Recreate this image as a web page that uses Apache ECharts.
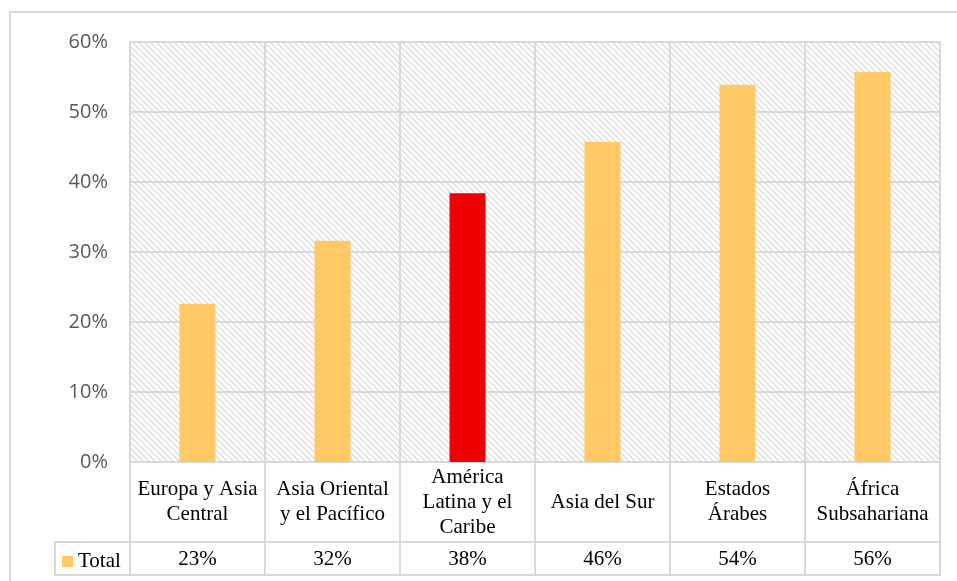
<!DOCTYPE html>
<html>
<head>
<meta charset="utf-8">
<script src="https://cdn.jsdelivr.net/npm/echarts@6/dist/echarts.min.js"></script>
<style>
  html, body { margin: 0; padding: 0; background: #fff; }
  #main { width: 957px; height: 581px; }
</style>
</head>
<body>
<div id="main"></div>
<script>
const categories = ['Europa y Asia\nCentral', 'Asia Oriental\ny el Pacífico', 'América\nLatina y el\nCaribe', 'Asia del Sur', 'Estados\nÁrabes', 'África\nSubsahariana']
const values = [22.6, 31.6, 38.4, 45.7, 53.9, 55.7]
const tableLabels = ['23%', '32%', '38%', '46%', '54%', '56%']
const highlightIndex = 2
const yTicks = { min: 0, max: 60, interval: 10 }

const gold = '#FFCA66'
const red = '#EE0000'
const lineGray = '#d9d9d9'
const serif = '"Liberation Serif", "Times New Roman", serif'

// hatched plot background
const hatch = document.createElement('canvas')
hatch.width = 6
hatch.height = 6
const ctx = hatch.getContext('2d')
ctx.fillStyle = '#fff'
ctx.fillRect(0, 0, 6, 6)
ctx.strokeStyle = '#dcdcdc'
ctx.lineWidth = 1.3
ctx.beginPath()
ctx.moveTo(-1, -1); ctx.lineTo(7, 7)
ctx.moveTo(-1, 5); ctx.lineTo(1, 7)
ctx.moveTo(5, -1); ctx.lineTo(7, 1)
ctx.stroke()

const myChart = echarts.init(document.getElementById('main'))

const option = {
    animation: false,
    grid: {
        left: 130, right: 17, top: 42, bottom: 119,
        show: true,
        backgroundColor: { image: hatch, repeat: 'repeat' },
        borderColor: lineGray,
        borderWidth: 2
    },
    legend: {
        data: ['Total'],
        left: 57, top: 546,
        icon: 'rect',
        itemWidth: 11, itemHeight: 11,
        itemGap: 4,
        textStyle: { fontFamily: serif, fontSize: 21, color: '#000' }
    },
    graphic: [
        {
            type: 'rect', silent: true, z: -1,
            shape: { x: 10, y: 12, width: 960, height: 600 },
            style: { fill: 'none', stroke: lineGray, lineWidth: 2 }
        },
        {
            type: 'polyline', silent: true,
            shape: { points: [[130, 542], [55, 542], [55, 575], [130, 575]] },
            style: { fill: 'none', stroke: lineGray, lineWidth: 2 }
        }
    ],
    xAxis: [
        {
            type: 'category',
            data: categories,
            axisLine: { lineStyle: { color: lineGray, width: 2 } },
            axisTick: { show: true, length: 113, lineStyle: { color: lineGray, width: 2 } },
            splitLine: { show: true, lineStyle: { color: lineGray, width: 2 } },
            axisLabel: {
                interval: 0,
                margin: 40,
                verticalAlign: 'middle',
                fontFamily: serif,
                fontSize: 21,
                lineHeight: 25,
                color: '#000'
            }
        },
        {
            type: 'category',
            data: tableLabels,
            position: 'bottom',
            offset: 80,
            axisLine: { lineStyle: { color: lineGray, width: 2 } },
            axisTick: { show: false },
            axisLabel: {
                interval: 0,
                margin: 17,
                verticalAlign: 'middle',
                fontFamily: serif,
                fontSize: 21,
                color: '#000'
            }
        },
        {
            type: 'category',
            data: tableLabels,
            position: 'bottom',
            offset: 113,
            axisLine: { lineStyle: { color: lineGray, width: 2 } },
            axisTick: { show: false },
            axisLabel: { show: false }
        }
    ],
    yAxis: {
        type: 'value',
        min: yTicks.min,
        max: yTicks.max,
        interval: yTicks.interval,
        axisLine: { show: false },
        axisTick: { show: false },
        splitLine: { lineStyle: { color: lineGray, width: 2 } },
        axisLabel: {
            formatter: '{value}%',
            margin: 22,
            fontFamily: '"Open Sans", sans-serif',
            fontSize: 20,
            color: '#595959'
        }
    },
    series: [
        {
            name: 'Total',
            type: 'bar',
            barWidth: 36,
            itemStyle: { color: gold },
            data: values.map((v, i) => i === highlightIndex ? { value: v, itemStyle: { color: red } } : v)
        }
    ]
}

myChart.setOption(option)
</script>
</body>
</html>
